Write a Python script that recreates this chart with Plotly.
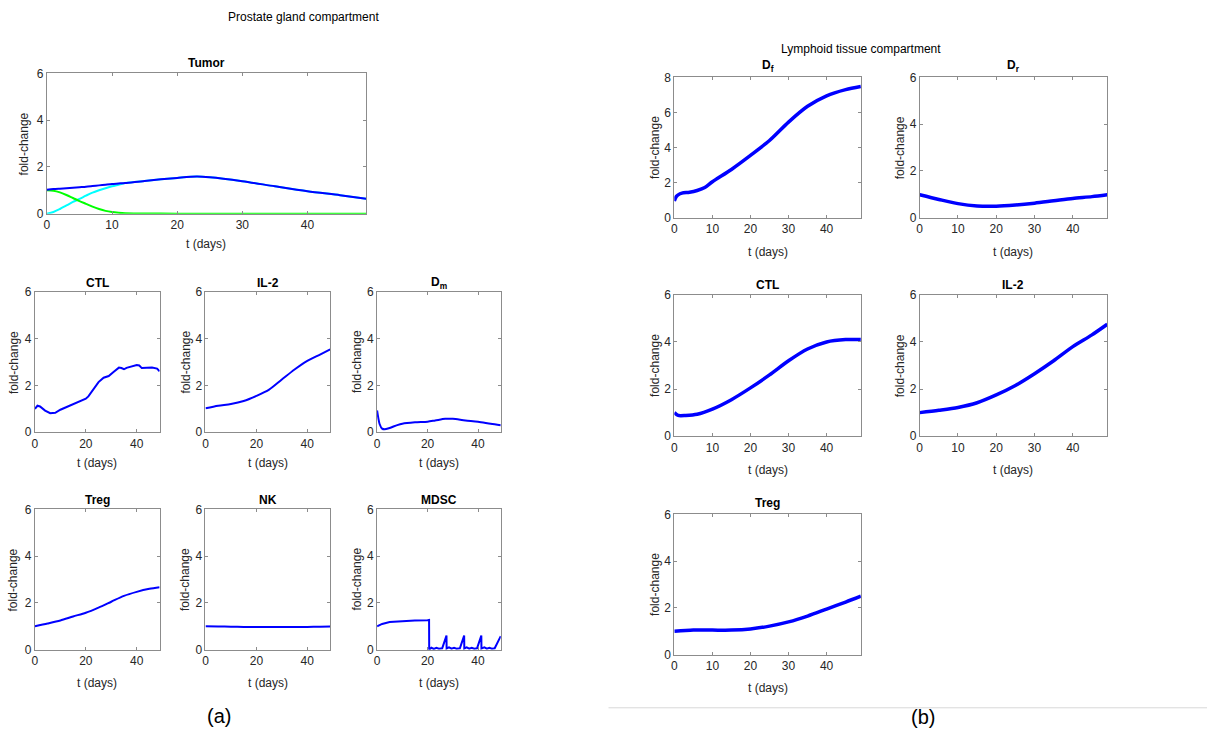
import plotly.graph_objects as go

W, H = 1207, 730

# ---------------- data ----------------
t_tumor = [0, 1, 2, 3, 4, 5, 6, 7, 8, 9, 10, 11, 12, 15, 20, 23, 25, 30, 35, 40, 45, 49]
tumor_total = [1.02, 1.05, 1.07, 1.09, 1.11, 1.13, 1.15, 1.18, 1.21, 1.24, 1.27, 1.29, 1.31, 1.4, 1.53, 1.59, 1.56, 1.39, 1.17, 0.96, 0.79, 0.64]
tumor_cyan = [0.0, 0.07, 0.2, 0.35, 0.5, 0.63, 0.77, 0.9, 1.0, 1.09, 1.17, 1.24, 1.31, 1.4, 1.53, 1.59, 1.56, 1.39, 1.17, 0.96, 0.79, 0.64]
tumor_green = [1.0, 0.98, 0.91, 0.8, 0.67, 0.54, 0.42, 0.3, 0.2, 0.12, 0.07, 0.04, 0.02, 0.01, 0.0, 0.0, 0.0, 0.0, 0.0, 0.0, 0.0, 0.0]

t_ctl_p = [0, 1, 2, 3, 4, 6, 8, 10, 15, 20, 21, 23, 25, 27, 28, 29, 31, 33, 34, 35, 36, 38, 40, 41, 42, 44, 46, 48, 49]
ctl_p = [1.0, 1.13, 1.1, 1.0, 0.92, 0.81, 0.83, 0.96, 1.19, 1.43, 1.53, 1.85, 2.14, 2.33, 2.36, 2.4, 2.58, 2.76, 2.74, 2.69, 2.75, 2.8, 2.87, 2.85, 2.74, 2.75, 2.76, 2.72, 2.6]

t_std = [0, 5, 10, 15, 20, 25, 30, 35, 40, 45, 49]
il2_p = [1.02, 1.13, 1.2, 1.33, 1.55, 1.82, 2.25, 2.68, 3.05, 3.32, 3.54]

t_dm = [0, 0.5, 1, 2, 3, 5, 8, 10, 15, 20, 23, 27, 30, 35, 40, 45, 49]
dm_p = [0.93, 0.6, 0.35, 0.15, 0.12, 0.18, 0.3, 0.36, 0.42, 0.45, 0.5, 0.57, 0.57, 0.5, 0.45, 0.36, 0.3]

treg_p = [1.0, 1.12, 1.25, 1.42, 1.58, 1.8, 2.05, 2.3, 2.47, 2.6, 2.67]
nk_p = [1.0, 0.99, 0.98, 0.97, 0.97, 0.97, 0.97, 0.97, 0.97, 0.98, 0.99]

t_mdsc = [0, 2, 5, 10, 15, 20, 20.6, 20.65, 21.5, 22.5, 23.5, 24.5, 25.8, 27.5, 27.55, 28.5, 29.5, 30.5, 31.5, 32.8,
          34.5, 34.55, 35.5, 36.5, 37.5, 38.5, 39.6, 41.3, 41.35, 42.5, 43.5, 44.5, 45.5, 46.6, 49]
mdsc_p = [1.0, 1.1, 1.18, 1.22, 1.25, 1.26, 1.27, 0.0, 0.08, 0.03, 0.08, 0.04, 0.06, 0.6, 0.05, 0.1, 0.04, 0.08, 0.04, 0.06,
          0.6, 0.05, 0.1, 0.04, 0.08, 0.04, 0.06, 0.6, 0.05, 0.1, 0.04, 0.08, 0.04, 0.06, 0.58]

t_df = [0, 0.5, 1, 2, 4, 6, 8, 10, 15, 20, 25, 30, 35, 40, 45, 49]
df_l = [0.95, 1.2, 1.3, 1.4, 1.45, 1.55, 1.72, 2.05, 2.75, 3.55, 4.4, 5.45, 6.35, 6.95, 7.3, 7.48]

dr_l = [0.98, 0.78, 0.6, 0.5, 0.49, 0.54, 0.62, 0.72, 0.82, 0.9, 0.98]

t_ctl_l = [0, 1, 3, 6, 10, 15, 20, 25, 30, 35, 40, 45, 49]
ctl_l = [1.0, 0.88, 0.88, 0.93, 1.15, 1.55, 2.05, 2.6, 3.2, 3.7, 4.0, 4.1, 4.1]

il2_l = [1.0, 1.1, 1.22, 1.42, 1.75, 2.15, 2.65, 3.2, 3.8, 4.3, 4.75]
treg_l = [1.0, 1.05, 1.05, 1.05, 1.1, 1.22, 1.4, 1.65, 1.95, 2.25, 2.5]

panel_titles_left = ["Tumor", "CTL", "IL-2", "D<sub>m</sub>", "Treg", "NK", "MDSC"]
panel_titles_right = ["D<sub>f</sub>", "D<sub>r</sub>", "CTL", "IL-2", "Treg"]

# ---------------- layout helpers ----------------
fig = go.Figure()
BLUE = "#0000ff"
AX = "#8c8c8c"
TXT = "#262626"
LEFT_FONT = "Liberation Sans, Arial, sans-serif"
RIGHT_FONT = "Liberation Sans Narrow, Liberation Sans, Arial, sans-serif"

ann = []
axis_count = [0]

# page is photographed with a small vertical rescale; compensate
YS, YO = 0.9786, 7.8


def px(x):
    return x / W


def py(y):
    yf = (y - YO) / YS
    return 1 - yf / H


def add_panel(x0, x1, y0, y1, title, series, xticks, ymax, yticks, font, lw, title_y, xlab_y, ylab_x, shape="spline"):
    axis_count[0] += 1
    i = axis_count[0]
    xa = "xaxis" if i == 1 else f"xaxis{i}"
    ya = "yaxis" if i == 1 else f"yaxis{i}"
    xr = "x" if i == 1 else f"x{i}"
    yr = "y" if i == 1 else f"y{i}"
    common = dict(showgrid=False, zeroline=False, showline=True, linecolor=AX, linewidth=1,
                  mirror="ticks", ticks="inside", ticklen=3, tickcolor=AX,
                  tickfont=dict(family=font, size=12, color=TXT))
    fig.update_layout(**{
        xa: dict(domain=[px(x0), px(x1)], anchor=yr, range=[0, 49], tickvals=xticks, **common),
        ya: dict(domain=[py(y1), py(y0)], anchor=xr, range=[0, ymax], tickvals=yticks, **common),
    })
    for (tx, ty, col) in series:
        fig.add_trace(go.Scatter(x=tx, y=ty, mode="lines",
                                 line=dict(color=col, width=lw, shape=shape, smoothing=0.8 if shape == "spline" else None),
                                 xaxis=xr, yaxis=yr, showlegend=False, hoverinfo="skip"))
    ann.append(dict(x=px((x0 + x1) / 2), y=py(title_y), xref="paper", yref="paper", text=f"<b>{title}</b>",
                    showarrow=False, font=dict(family=font, size=12, color="#000000"),
                    xanchor="center", yanchor="middle"))
    ann.append(dict(x=px((x0 + x1) / 2), y=py(xlab_y), xref="paper", yref="paper", text="t (days)",
                    showarrow=False, font=dict(family=font, size=12, color=TXT),
                    xanchor="center", yanchor="middle"))
    ann.append(dict(x=px(ylab_x), y=py((y0 + y1) / 2), xref="paper", yref="paper", text="fold-change",
                    showarrow=False, textangle=-90, font=dict(family=font, size=12, color=TXT),
                    xanchor="center", yanchor="middle"))


# Left: prostate gland compartment
add_panel(44, 364, 74, 214, panel_titles_left[0],
          [(t_tumor, tumor_cyan, "#00ffff"), (t_tumor, tumor_green, "#00ff00"), (t_tumor, tumor_total, BLUE)],
          [0, 10, 20, 30, 40], 6, [0, 2, 4, 6], LEFT_FONT, 2, 64, 244, 21)
row2 = (292, 432)
row3 = (509, 649)
cols = [(32, 157), (203, 328), (375, 499)]
add_panel(*cols[0], *row2, panel_titles_left[1], [(t_ctl_p, ctl_p, BLUE)], [0, 20, 40], 6, [0, 2, 4, 6], LEFT_FONT, 2, 283, 463, 11, shape="linear")
add_panel(*cols[1], *row2, panel_titles_left[2], [(t_std, il2_p, BLUE)], [0, 20, 40], 6, [0, 2, 4, 6], LEFT_FONT, 2, 283, 463, 183)
add_panel(*cols[2], *row2, panel_titles_left[3], [(t_dm, dm_p, BLUE)], [0, 20, 40], 6, [0, 2, 4, 6], LEFT_FONT, 2, 283, 463, 355)
add_panel(*cols[0], *row3, panel_titles_left[4], [(t_std, treg_p, BLUE)], [0, 20, 40], 6, [0, 2, 4, 6], LEFT_FONT, 2, 500, 682, 11)
add_panel(*cols[1], *row3, panel_titles_left[5], [(t_std, nk_p, BLUE)], [0, 20, 40], 6, [0, 2, 4, 6], LEFT_FONT, 2, 500, 682, 183)
add_panel(*cols[2], *row3, panel_titles_left[6], [(t_mdsc, mdsc_p, BLUE)], [0, 20, 40], 6, [0, 2, 4, 6], LEFT_FONT, 2, 500, 682, 355, shape="linear")

# Right: lymphoid tissue compartment
rc = [(673, 860), (919, 1107)]
rr = [(78, 218), (295, 436), (514, 654)]
xt = [0, 10, 20, 30, 40]
add_panel(*rc[0], *rr[0], panel_titles_right[0], [(t_df, df_l, BLUE)], xt, 8, [0, 2, 4, 6, 8], RIGHT_FONT, 3.5, 67, 252, 653)
add_panel(*rc[1], *rr[0], panel_titles_right[1], [(t_std, dr_l, BLUE)], xt, 6, [0, 2, 4, 6], RIGHT_FONT, 3.5, 67, 252, 899)
add_panel(*rc[0], *rr[1], panel_titles_right[2], [(t_ctl_l, ctl_l, BLUE)], xt, 6, [0, 2, 4, 6], RIGHT_FONT, 3.5, 285, 470, 653)
add_panel(*rc[1], *rr[1], panel_titles_right[3], [(t_std, il2_l, BLUE)], xt, 6, [0, 2, 4, 6], RIGHT_FONT, 3.5, 285, 470, 899)
add_panel(*rc[0], *rr[2], panel_titles_right[4], [(t_std, treg_l, BLUE)], xt, 6, [0, 2, 4, 6], RIGHT_FONT, 3.5, 503, 687, 653)

# Headings and labels
ann.append(dict(x=px(301), y=py(18), xref="paper", yref="paper", text="Prostate gland compartment", showarrow=False,
                font=dict(family=LEFT_FONT, size=12, color="#000000"), xanchor="center", yanchor="middle"))
ann.append(dict(x=px(860), y=py(50), xref="paper", yref="paper", text="Lymphoid tissue compartment", showarrow=False,
                font=dict(family=LEFT_FONT, size=12, color="#000000"), xanchor="center", yanchor="middle"))
ann.append(dict(x=px(217), y=py(715), xref="paper", yref="paper", text="(a)", showarrow=False,
                font=dict(family=LEFT_FONT, size=20, color="#000000"), xanchor="center", yanchor="middle"))
ann.append(dict(x=px(922), y=py(716), xref="paper", yref="paper", text="(b)", showarrow=False,
                font=dict(family=LEFT_FONT, size=20, color="#000000"), xanchor="center", yanchor="middle"))

fig.update_layout(
    width=W, height=H, margin=dict(l=0, r=0, t=0, b=0),
    paper_bgcolor="white", plot_bgcolor="white",
    annotations=ann,
    shapes=[dict(type="line", xref="paper", yref="paper", x0=px(607), x1=1, y0=py(707), y1=py(707),
                 line=dict(color="#d9d9d9", width=1))],
)

fig.write_html("out.html")
